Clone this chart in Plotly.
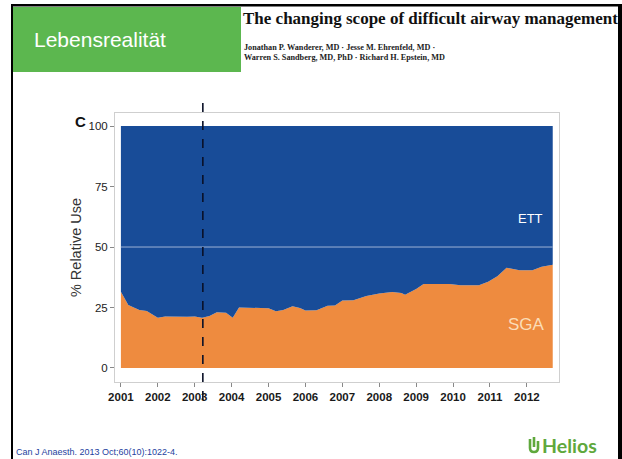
import plotly.graph_objects as go

# ---------------- data ----------------
years = [2001.0, 2001.1, 2001.2, 2001.35, 2001.5, 2001.7, 2001.85, 2002.0, 2002.2, 2002.4,
         2002.6, 2002.8, 2003.0, 2003.2, 2003.4, 2003.6, 2003.85, 2004.03, 2004.2, 2004.5,
         2004.8, 2005.0, 2005.2, 2005.4, 2005.65, 2005.85, 2006.0, 2006.3, 2006.6, 2006.8,
         2007.0, 2007.3, 2007.65, 2008.0, 2008.35, 2008.6, 2008.7, 2009.0, 2009.2, 2009.9,
         2010.2, 2010.7, 2010.95, 2011.2, 2011.45, 2011.6, 2011.8, 2012.15, 2012.4, 2012.7]
sga = [31.5, 29.0, 26.0, 25.0, 24.0, 23.5, 22.0, 20.8, 21.3, 21.2,
       21.0, 21.2, 21.3, 20.8, 21.5, 23.0, 22.8, 20.8, 25.0, 25.0,
       24.7, 24.7, 23.4, 24.0, 25.5, 24.8, 23.8, 23.9, 25.7, 25.8,
       27.9, 28.0, 29.8, 30.8, 31.4, 31.0, 30.3, 32.6, 34.7, 34.7,
       34.2, 34.2, 35.6, 37.9, 41.4, 41.0, 40.4, 40.4, 41.8, 42.7]
ett = [100 - v for v in sga]
tick_years = [2001, 2002, 2003, 2004, 2005, 2006, 2007, 2008, 2009, 2010, 2011, 2012]
y_ticks = [0, 25, 50, 75, 100]
guideline_year = 2003.22
reference_level = 50

# ---------------- layout geometry ----------------
W, H = 622, 459
L, R, T, B = 115, 63, 113, 77
PW = W - L - R
PH = H - T - B


def px(x):
    return (x - L) / PW


def py(y):
    return (H - B - y) / PH


ORANGE = "#EE8B3F"
BLUE = "#184C98"
GREEN = "#5CB74F"
HELIOS = "#5FA83C"

fig = go.Figure()
fig.add_trace(go.Scatter(x=years, y=sga, stackgroup="one", mode="lines",
                         line=dict(width=0), fillcolor=ORANGE, name="SGA",
                         hoverinfo="skip"))
fig.add_trace(go.Scatter(x=years, y=ett, stackgroup="one", mode="lines",
                         line=dict(width=0), fillcolor=BLUE, name="ETT",
                         hoverinfo="skip"))

shapes = []
# slide frame
shapes.append(dict(type="rect", xref="paper", yref="paper", x0=px(11), x1=px(13),
                   y0=py(4), y1=py(459), fillcolor="black", line=dict(width=0), layer="above"))
shapes.append(dict(type="rect", xref="paper", yref="paper", x0=px(11), x1=px(622),
                   y0=py(4), y1=py(6.5), fillcolor="black", line=dict(width=0), layer="above"))
shapes.append(dict(type="rect", xref="paper", yref="paper", x0=px(618), x1=px(622),
                   y0=py(4), y1=py(459), fillcolor="black", line=dict(width=0), layer="above"))
# green header box
shapes.append(dict(type="rect", xref="paper", yref="paper", x0=px(13), x1=px(241),
                   y0=py(7), y1=py(72), fillcolor=GREEN, line=dict(width=0), layer="above"))
# reference line at 50
shapes.append(dict(type="line", xref="x", yref="y", x0=years[0], x1=years[-1],
                   y0=reference_level, y1=reference_level,
                   line=dict(color="#9DB3D6", width=1), layer="above"))
# dashed vertical line
shapes.append(dict(type="line", xref="x", yref="paper", x0=guideline_year, x1=guideline_year,
                   y0=py(400), y1=py(100), line=dict(color="#0A1128", width=1.6, dash="dash"),
                   layer="above"))
# Helios icon
ix, iy = 530, 439
icon_path = (f"M {px(ix)},{py(iy)} L {px(ix)},{py(iy+9)} "
             f"Q {px(ix)},{py(iy+13)} {px(ix+4)},{py(iy+13)} "
             f"Q {px(ix+8)},{py(iy+13)} {px(ix+8)},{py(iy+9)} L {px(ix+8)},{py(iy+2)}")
shapes.append(dict(type="path", xref="paper", yref="paper", path=icon_path,
                   line=dict(color=HELIOS, width=2.6), layer="above"))
shapes.append(dict(type="line", xref="paper", yref="paper", x0=px(ix+4), x1=px(ix+4),
                   y0=py(iy - 2), y1=py(iy + 8), line=dict(color=HELIOS, width=2.6),
                   layer="above"))

ann = []
ann.append(dict(text="Lebensrealität", x=px(32), y=py(40), xref="paper", yref="paper",
                xanchor="left", yanchor="middle", showarrow=False,
                font=dict(family="Liberation Sans, Arial", size=21, color="white")))
ann.append(dict(text="<b>The changing scope of difficult airway management</b>", x=px(241),
                y=py(18), xref="paper", yref="paper", xanchor="left", yanchor="middle",
                showarrow=False,
                font=dict(family="Liberation Serif, Times New Roman", size=17, color="#111")))
ann.append(dict(text="<b>Jonathan P. Wanderer, MD · Jesse M. Ehrenfeld, MD ·</b>", x=px(242),
                y=py(47), xref="paper", yref="paper", xanchor="left", yanchor="middle",
                showarrow=False,
                font=dict(family="Liberation Serif, Times New Roman", size=8.2, color="#222")))
ann.append(dict(text="<b>Warren S. Sandberg, MD, PhD · Richard H. Epstein, MD</b>", x=px(242),
                y=py(58), xref="paper", yref="paper", xanchor="left", yanchor="middle",
                showarrow=False,
                font=dict(family="Liberation Serif, Times New Roman", size=8.2, color="#222")))
ann.append(dict(text="<b>C</b>", x=px(80), y=py(121), xref="paper", yref="paper",
                xanchor="center", yanchor="middle", showarrow=False,
                font=dict(family="Liberation Sans, Arial", size=15, color="#111")))
ann.append(dict(text="ETT", x=px(530), y=py(218), xref="paper", yref="paper",
                xanchor="center", yanchor="middle", showarrow=False,
                font=dict(family="Liberation Sans, Arial", size=13, color="white")))
ann.append(dict(text="SGA", x=px(526), y=py(324), xref="paper", yref="paper",
                xanchor="center", yanchor="middle", showarrow=False,
                font=dict(family="Liberation Sans, Arial", size=17, color="#FBDDB8")))
ann.append(dict(text="Can J Anaesth. 2013 Oct;60(10):1022-4.", x=px(14), y=py(452),
                xref="paper", yref="paper", xanchor="left", yanchor="middle",
                showarrow=False,
                font=dict(family="Liberation Sans, Arial", size=9, color="#1E3FA0")))
ann.append(dict(text="<b>Helios</b>", x=px(540), y=py(445), xref="paper", yref="paper",
                xanchor="left", yanchor="middle", showarrow=False,
                font=dict(family="Lato, Liberation Sans, Arial", size=19.5, color=HELIOS)))

fig.update_layout(
    width=W, height=H, autosize=False,
    margin=dict(l=L, r=R, t=T, b=B, pad=0),
    paper_bgcolor="white", plot_bgcolor="white",
    showlegend=False,
    shapes=shapes, annotations=ann,
    font=dict(family="Liberation Sans, Arial", color="#222"),
)
fig.update_xaxes(range=[2000.84, 2012.87], tickvals=tick_years,
                 ticktext=[str(t) for t in tick_years],
                 showgrid=False, zeroline=False, showline=True, mirror=True,
                 linecolor="#CFCFCF", linewidth=1,
                 ticks="outside", ticklen=4, tickcolor="#888", tickwidth=1,
                 tickfont=dict(size=11.5, color="#1A1A1A", weight="bold"))
fig.update_yaxes(range=[-5.8, 105.4], tickvals=y_ticks,
                 ticktext=[str(t) for t in y_ticks],
                 showgrid=False, zeroline=False, showline=True, mirror=True,
                 linecolor="#CFCFCF", linewidth=1,
                 ticks="outside", ticklen=4, tickcolor="#888", tickwidth=1,
                 tickfont=dict(size=11.5, color="#222"),
                 title=dict(text="% Relative Use", standoff=3,
                            font=dict(size=14.5, color="#333")))

fig.write_html("out.html", config={"displayModeBar": False},
               post_script="document.body.style.margin='0';document.body.style.overflow='hidden';")
